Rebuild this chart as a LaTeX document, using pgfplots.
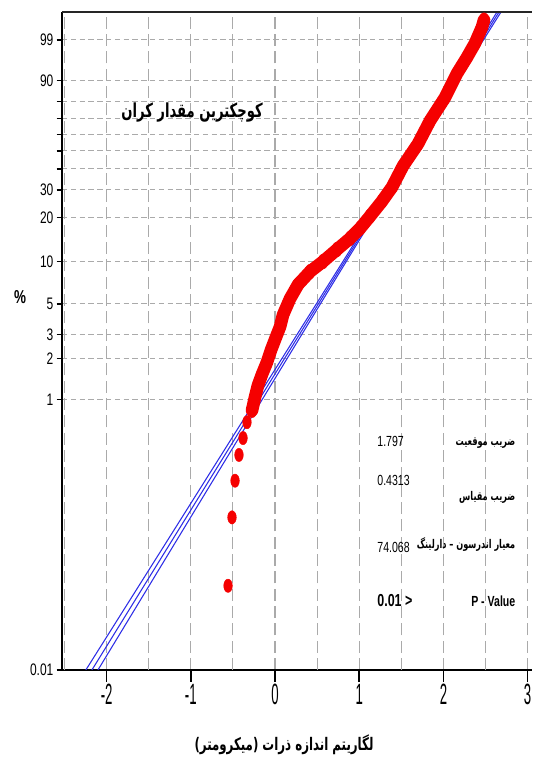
\documentclass[border=0pt]{standalone}
\usepackage{fontspec}
\usepackage{pgfplots}
\pgfplotsset{compat=1.18}
\setmainfont{Liberation Sans}
\newfontfamily\narrowA{Liberation Sans}[FakeStretch=0.72]
\newfontfamily\narrowB{Liberation Sans}[FakeStretch=0.45]
\newfontfamily\fa[Script=Arabic, FakeStretch=0.68]{DejaVu Sans}
\TeXXeTstate=1
\definecolor{gridc}{RGB}{170,170,170}
\definecolor{fitblue}{RGB}{45,45,230}
\definecolor{ptred}{RGB}{245,0,0}

\pgfplotstableread{
x t
-0.558 -7.775
-0.511 -6.610
-0.475 -5.985
-0.428 -5.546
-0.380 -5.259
-0.333 -4.988
-0.273 -4.786
}\sparse

\pgfplotstableread{
x t
-0.273 -4.786
-0.238 -4.565
-0.202 -4.359
-0.154 -4.171
-0.095 -3.965
-0.048 -3.760
0.012 -3.537
0.059 -3.365
0.095 -3.160
0.178 -2.885
0.273 -2.645
0.416 -2.423
0.570 -2.251
0.736 -2.046
0.891 -1.857
1.010 -1.686
1.128 -1.480
1.271 -1.223
1.390 -0.983
1.520 -0.623
1.698 -0.246
1.841 0.148
2.019 0.543
2.162 0.954
2.280 1.228
2.375 1.468
2.458 1.742
2.482 1.862
}\dense

\pgfplotstableread{
t c lo hi
-9.21 -2.175 -2.247 -2.103
-7.00 -1.222 -1.276 -1.168
-5.00 -0.360 -0.399 -0.321
-3.00 0.503 0.479 0.527
-1.00 1.366 1.353 1.379
1.00 2.228 2.211 2.245
2.00 2.660 2.636 2.684
}\fit

\begin{document}
\begin{tikzpicture}
\useasboundingbox (-46.5pt,-72pt) rectangle (352.5pt,502.5pt);
\begin{axis}[
  at={(0pt,0pt)}, anchor=south west,
  scale only axis, width=352.5pt, height=493.5pt,
  xmin=-2.53, xmax=3.052, ymin=-9.21, ymax=2.0,
  axis x line*=bottom, axis y line*=left,
  axis line style={line width=1.3pt, black},
  clip=true,
  tick align=outside,
  xtick={-2,-1,0,1,2,3},
  xticklabels={-2,-1,0,1,2,3},
  extra x ticks={-2.5,-1.5,-0.5,0.5,1.5,2.5},
  extra x tick labels={},
  extra x tick style={grid=major, xtick style={draw=none}},
  ytick={-9.21,-4.600,-3.902,-3.491,-2.970,-2.250,-1.500,-1.031,0.834,1.527},
  yticklabels={0.01,1,2,3,5,10,20,30,90,99},
  minor ytick={-0.672,-0.367,-0.087,0.186,0.476},
  xmajorgrids, ymajorgrids, yminorgrids,
  x grid style={gridc, line width=0.8pt, dash pattern=on 9pt off 4pt},
  y grid style={gridc, line width=0.8pt, dash pattern=on 4pt off 2.6pt},
  xtick style={black, line width=1.2pt, /pgfplots/major tick length=9pt},
  ytick style={black, line width=1.2pt, /pgfplots/major tick length=4pt, /pgfplots/minor tick length=4pt},
  xticklabel style={font=\narrowB\fontsize{22}{22}\selectfont, inner sep=2pt, yshift=-4pt},
  yticklabel style={font=\narrowA\fontsize{12.5}{12.5}\selectfont, inner sep=2pt},
]
\addplot[fitblue, line width=0.8pt] table[x=lo, y=t] {\fit};
\addplot[fitblue, line width=0.8pt] table[x=c, y=t] {\fit};
\addplot[fitblue, line width=0.8pt] table[x=hi, y=t] {\fit};
\addplot[ptred, only marks, mark=*, mark size=5pt, mark options={xscale=0.65, draw=ptred, fill=ptred, line width=0.3pt}] table[x=x, y=t] {\sparse};
\addplot[ptred, line width=9.5pt, line cap=round, line join=round, mark=*, mark size=5.5pt, mark options={xscale=0.7, draw=ptred, fill=ptred, line width=0.3pt}] table[x=x, y=t] {\dense};
\draw[line width=1.3pt, black!85] (rel axis cs:0,1) -- (rel axis cs:1,1);
\end{axis}
\node[font=\fa\bfseries\fontsize{14.5}{17}\selectfont] at (97.5pt,417.75pt) {\beginR کوچکترین مقدار کران\endR};
\node[anchor=east, font=\fa\bfseries\fontsize{9}{10}\selectfont] at (343.5pt,170.25pt) {\beginR ضریب موقعیت\endR};
\node[anchor=west, font=\narrowA\fontsize{11}{12}\selectfont] at (233pt,171.75pt) {1.797};
\node[anchor=west, font=\narrowA\fontsize{11}{12}\selectfont] at (233pt,142.5pt) {0.4313};
\node[anchor=east, font=\fa\bfseries\fontsize{9}{10}\selectfont] at (343.5pt,129.75pt) {\beginR ضریب مقیاس\endR};
\node[anchor=west, font=\narrowA\fontsize{11}{12}\selectfont] at (233pt,92.25pt) {74.068};
\node[anchor=east, font=\fa\bfseries\fontsize{9}{10}\selectfont] at (343.5pt,93.75pt) {\beginR معیار اندرسون – دارلینگ\endR};
\node[anchor=west, font=\narrowA\bfseries\fontsize{13}{14}\selectfont] at (233pt,51.75pt) {0.01 >};
\node[anchor=east, font=\narrowA\bfseries\fontsize{11}{12}\selectfont] at (343.5pt,51.75pt) {P - Value};
\node[font=\narrowA\bfseries\fontsize{14}{15}\selectfont] at (-31.5pt,279.75pt) {\%};
\node[font=\fa\bfseries\fontsize{13}{15}\selectfont] at (166.5pt,-56.25pt) {\beginR لگاریتم اندازه ذرات (میکرومتر)\endR};
\end{tikzpicture}
\end{document}
